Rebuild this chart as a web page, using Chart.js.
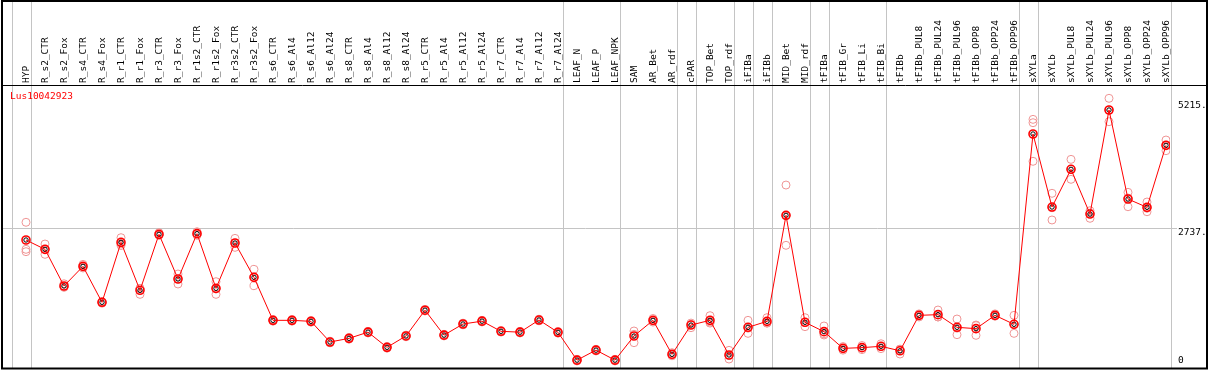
<!DOCTYPE html>
<html>
<head>
<meta charset="utf-8">
<script src="https://cdn.jsdelivr.net/npm/chart.js@4.4.0/dist/chart.umd.min.js"></script>
<style>
  html, body { margin: 0; padding: 0; background: #fff; }
  #wrap { width: 1209px; height: 370px; }
</style>
</head>
<body>
<div id="wrap"><canvas id="chart" width="1209" height="370"></canvas></div>
<script>
// ─────────────────────────────────────────────────────
// DATA
// ─────────────────────────────────────────────────────
const geneName = 'Lus10042923';

const categories = [
  'HYP', 'R_s2_CTR', 'R_s2_Fox', 'R_s4_CTR', 'R_s4_Fox', 'R_r1_CTR', 'R_r1_Fox',
  'R_r3_CTR', 'R_r3_Fox', 'R_r1s2_CTR', 'R_r1s2_Fox', 'R_r3s2_CTR', 'R_r3s2_Fox',
  'R_s6_CTR', 'R_s6_Al4', 'R_s6_Al12', 'R_s6_Al24',
  'R_s8_CTR', 'R_s8_Al4', 'R_s8_Al12', 'R_s8_Al24',
  'R_r5_CTR', 'R_r5_Al4', 'R_r5_Al12', 'R_r5_Al24',
  'R_r7_CTR', 'R_r7_Al4', 'R_r7_Al12', 'R_r7_Al24',
  'LEAF_N', 'LEAF_P', 'LEAF_NPK', 'SAM', 'AR_Bet', 'AR_rdf', 'cPAR',
  'TOP_Bet', 'TOP_rdf', 'iFIBa', 'iFIBb', 'MID_Bet', 'MID_rdf',
  'tFIBa', 'tFIB_Gr', 'tFIB_Li', 'tFIB_Bi', 'tFIBb',
  'tFIBb_PUL8', 'tFIBb_PUL24', 'tFIBb_PUL96', 'tFIBb_OPP8', 'tFIBb_OPP24', 'tFIBb_OPP96',
  'sXYLa', 'sXYLb',
  'sXYLb_PUL8', 'sXYLb_PUL24', 'sXYLb_PUL96', 'sXYLb_OPP8', 'sXYLb_OPP24', 'sXYLb_OPP96'
];

const meanValues = [
  2508, 2325, 1607, 1992, 1287, 2462, 1522, 2619, 1744, 2632, 1561, 2449, 1776,
  934, 934, 914, 509, 581, 702, 405, 628, 1133, 644, 862, 918, 719, 702, 940, 699,
  154, 350, 154, 627, 934, 268, 842, 934, 255, 797, 914, 2991, 895,
  712, 385, 399, 425, 337, 1032, 1045, 797, 771, 1032, 856,
  4585, 3154, 3893, 3017, 5055, 3311, 3148, 4363
];

const rep1 = [
  2855, 2429, 1650, 2030, 1270, 2553, 1443, 2650, 1842, 2670, 1691, 2540, 1933,
  950, 950, 930, 525, 597, 718, 421, 644, 1149, 660, 878, 934, 735, 718, 956, 715,
  170, 366, 170, 725, 970, 300, 880, 1025, 346, 934, 986, 3585, 986,
  823, 420, 440, 475, 370, 1060, 1136, 960, 842, 1060, 1032,
  4872, 3423, 4088, 3082, 5284, 3442, 3252, 4467
];
const rep2 = [
  2325, 2227, 1580, 1960, 1300, 2400, 1560, 2600, 1646, 2600, 1443, 2364, 1613,
  918, 918, 898, 493, 565, 686, 389, 612, 1117, 628, 846, 902, 703, 686, 924, 683,
  138, 334, 138, 496, 900, 240, 790, 900, 176, 679, 880, 2404, 810,
  647, 350, 360, 380, 274, 1000, 1000, 653, 640, 1015, 679,
  4806, 2900, 3697, 2933, 4826, 3160, 3062, 4258
];
const rep3 = [
  2279, 2325, 1600, 1990, 1290, 2430, 1560, 2610, 1745, 2630, 1550, 2445, 1780,
  934, 934, 914, 509, 581, 702, 405, 628, 1133, 644, 862, 918, 719, 702, 940, 699,
  154, 350, 154, 660, 930, 265, 850, 880, 245, 780, 880, 2985, 890,
  670, 385, 400, 420, 365, 1035, 1000, 780, 830, 1025, 857,
  4050, 3140, 3895, 3035, 5055, 3330, 3130, 4365
];

const yTickValues = [0, 2737, 5215];
const yTickLabels = ['0', '2737.', '5215.'];
const yMax = 5545;

// categories after which a grey group separator is drawn (-1 = before the first)
const groupBreaks = [-1, 0, 28, 31, 34, 35, 37, 38, 39, 41, 42, 45, 52, 53, 60];

// ─────────────────────────────────────────────────────
// STYLE
// ─────────────────────────────────────────────────────
const MONO = 'DejaVu Sans Mono';
const RED = '#ff0000';
const PALE = 'rgb(240,150,150)';
const GRID = '#c4c4c4';

const toPoints = arr => arr.map((v, i) => ({ x: i, y: v }));

const framePlugin = {
  id: 'frame',
  beforeDraw(chart) {
    const { ctx, chartArea, scales } = chart;
    ctx.save();
    ctx.fillStyle = '#fff';
    ctx.fillRect(0, 0, chart.width, chart.height);
    // group separators run through the label band as well
    ctx.strokeStyle = GRID;
    ctx.lineWidth = 1;
    groupBreaks.forEach(b => {
      const x = Math.round(scales.x.getPixelForValue(b + 0.25)) + 0.5;
      ctx.beginPath();
      ctx.moveTo(x, 0);
      ctx.lineTo(x, chartArea.bottom);
      ctx.stroke();
    });
    ctx.restore();
  },
  afterDraw(chart) {
    const { ctx, chartArea } = chart;
    ctx.save();
    ctx.strokeStyle = '#000';
    ctx.lineWidth = 1;
    ctx.beginPath();
    ctx.moveTo(1, chartArea.top + 0.5);
    ctx.lineTo(1207, chartArea.top + 0.5);
    ctx.stroke();
    ctx.lineWidth = 2;
    ctx.strokeRect(2, 1, 1205, chartArea.bottom - 0.5);
    // gene name in the corner of the plot
    ctx.fillStyle = RED;
    ctx.font = `9.5px "${MONO}"`;
    ctx.textBaseline = 'middle';
    ctx.textAlign = 'left';
    ctx.fillText(geneName, chartArea.left + 9, chartArea.top + 12);
    ctx.restore();
  }
};

new Chart(document.getElementById('chart').getContext('2d'), {
  type: 'scatter',
  data: {
    datasets: [
      {
        label: 'mean',
        data: toPoints(meanValues),
        showLine: true,
        borderColor: RED,
        borderWidth: 1,
        pointRadius: 4,
        pointBorderWidth: 1.6,
        pointBorderColor: RED,
        pointBackgroundColor: 'rgba(0,0,0,0)'
      },
      {
        label: 'mean inner',
        data: toPoints(meanValues),
        showLine: false,
        pointRadius: 2.2,
        pointBorderWidth: 1,
        pointBorderColor: '#000',
        pointBackgroundColor: 'rgba(0,0,0,0)'
      },
      { label: 'r1', data: toPoints(rep1), pointRadius: 4, pointBorderWidth: 1, pointBorderColor: PALE, pointBackgroundColor: 'rgba(0,0,0,0)' },
      { label: 'r2', data: toPoints(rep2), pointRadius: 4, pointBorderWidth: 1, pointBorderColor: PALE, pointBackgroundColor: 'rgba(0,0,0,0)' },
      { label: 'r3', data: toPoints(rep3), pointRadius: 4, pointBorderWidth: 1, pointBorderColor: PALE, pointBackgroundColor: 'rgba(0,0,0,0)' }
    ]
  },
  options: {
    responsive: false,
    devicePixelRatio: 1,
    animation: false,
    layout: { autoPadding: false, padding: { left: 1, right: 2, top: 0, bottom: 2 } },
    plugins: {
      legend: { display: false },
      tooltip: { enabled: false },
      title: { display: false }
    },
    scales: {
      x: {
        type: 'linear',
        position: 'top',
        bounds: 'data',
        min: -1.316,
        max: 60.21,
        afterBuildTicks: s => { s.ticks = categories.map((c, i) => ({ value: i })); },
        afterFit: s => {
          s.height = 85;
          s.paddingLeft = 0; s.paddingRight = 0; s.paddingTop = 0; s.paddingBottom = 0;
        },
        grid: { display: false, drawTicks: false },
        border: { display: false },
        ticks: {
          autoSkip: false,
          minRotation: 90,
          maxRotation: 90,
          padding: 2,
          labelOffset: 11.5,
          color: '#000',
          font: { family: MONO, size: 9.5 },
          callback: v => categories[v]
        }
      },
      y: {
        position: 'right',
        min: 0,
        max: yMax,
        afterBuildTicks: s => { s.ticks = yTickValues.map(v => ({ value: v })); },
        afterFit: s => {
          s.width = 37;
          s.paddingLeft = 0; s.paddingRight = 0; s.paddingTop = 0; s.paddingBottom = 0;
        },
        grid: {
          color: c => (c.tick && c.tick.value === yTickValues[1]) ? GRID : 'rgba(0,0,0,0)',
          drawTicks: true,
          tickLength: 7
        },
        border: { display: false },
        ticks: {
          padding: 1,
          labelOffset: 4,
          color: '#000',
          font: { family: MONO, size: 9.5 },
          callback: v => {
            const lbl = yTickLabels[yTickValues.indexOf(v)];
            return v === 0 ? [lbl, '', ''] : lbl;   // lift the bottom label inside the frame
          }
        }
      }
    }
  },
  plugins: [framePlugin]
});
</script>
</body>
</html>
